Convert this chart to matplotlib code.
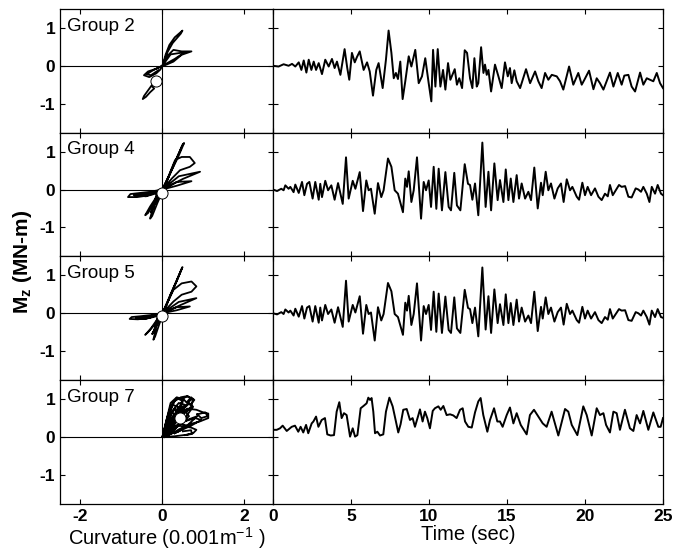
import matplotlib
matplotlib.use('Agg')
import matplotlib.pyplot as plt
import numpy as np

plt.rcParams['font.family'] = ['Liberation Sans', 'DejaVu Sans']
plt.rcParams['mathtext.fontset'] = 'custom'
plt.rcParams['mathtext.rm'] = 'Liberation Sans'
plt.rcParams['mathtext.it'] = 'Liberation Sans:italic'
plt.rcParams['mathtext.bf'] = 'Liberation Sans:bold'

nan = np.nan

groups = ['Group 2', 'Group 4', 'Group 5', 'Group 7']

# moment histories (peaks and troughs), time in sec, moment in MN-m
t_g2 = [0.0, 0.36, 0.68, 1.0, 1.22, 1.43, 1.65, 1.82, 1.97, 2.14, 2.29, 2.46, 2.61, 2.76, 2.93, 3.14,
        3.35, 3.57, 3.78, 3.95, 4.10, 4.32, 4.59, 4.76, 4.89, 5.06, 5.24, 5.38, 5.56, 5.81, 6.03, 6.2,
        6.41, 6.62, 6.77, 7.03, 7.24, 7.41, 7.59, 7.74, 7.88, 8.01, 8.16, 8.31, 8.48, 8.70, 8.87, 9.12,
        9.34, 9.55, 9.76, 9.98, 10.15, 10.26, 10.41, 10.56, 10.73, 10.90, 11.05, 11.22, 11.37, 11.65,
        11.79, 11.94, 12.12, 12.29, 12.44, 12.63, 12.78, 12.91, 13.06, 13.16, 13.34, 13.49, 13.59, 13.7,
        13.81, 13.98, 14.23, 14.45, 14.66, 14.87, 15.05, 15.19, 15.3, 15.47, 15.62, 15.84, 16.22, 16.48,
        16.8, 17.01, 17.22, 17.44, 17.65, 17.87, 18.19, 18.4, 18.61, 18.98, 19.25, 19.57, 19.79, 19.96,
        20.26, 20.54, 20.75, 20.96, 21.18, 21.6, 21.82, 22.1, 22.35, 22.52, 22.78, 22.99, 23.21, 23.53,
        23.74, 23.96, 24.17, 24.38, 24.6, 24.81, 25.0]
m_g2 = [0.0, -0.02, 0.04, 0.0, 0.05, -0.02, 0.09, -0.11, 0.14, -0.18, 0.16, -0.11, 0.11, -0.11, 0.07, -0.22,
        0.16, -0.02, 0.18, -0.06, 0.11, -0.24, 0.44, -0.06, -0.37, 0.34, 0.09, 0.23, 0.38, -0.11, 0.09, -0.15,
        -0.79, -0.11, 0.07, -0.59, 0.16, 0.93, 0.34, -0.33, -0.19, -0.35, 0.11, -0.88, -0.41, 0.25, -0.02, 0.42,
        -0.46, -0.28, 0.2, -0.46, -0.94, 0.42, -0.55, 0.44, -0.55, -0.11, -0.63, 0.07, -0.37, -0.09,
        -0.5, -0.33, -0.59, 0.41, 0.34, -0.33, -0.59, 0.2, -0.55, -0.46, 0.49, -0.19, 0.03, -0.24,
        -0.11, -0.68, 0.03, -0.28, -0.59, 0.09, -0.28, -0.06, -0.46, -0.12, -0.41, -0.59, -0.09, -0.46,
        -0.15, -0.41, -0.59, -0.19, -0.37, -0.24, -0.28, -0.41, -0.63, -0.02, -0.5, -0.19, -0.5, -0.37,
        -0.13, -0.62, -0.33, -0.46, -0.63, -0.18, -0.55, -0.19, -0.5, -0.26, -0.24, -0.55, -0.68, -0.18,
        -0.5, -0.33, -0.37, -0.41, -0.19, -0.46, -0.59]

t_g4 = [0.0, 0.26, 0.53, 0.68, 0.79, 1.0, 1.11, 1.32, 1.43, 1.65, 1.86, 2.01, 2.18, 2.33, 2.54, 2.71,
        2.93, 3.03, 3.14, 3.35, 3.53, 3.74, 3.95, 4.17, 4.47, 4.68, 4.85, 5.11, 5.28, 5.56, 5.77, 5.98,
        6.13, 6.28, 6.52, 6.73, 6.94, 7.09, 7.37, 7.59, 7.8, 8.01, 8.33, 8.48, 8.59, 8.7, 8.87, 9.02,
        9.23, 9.49, 9.66, 9.81, 9.98, 10.13, 10.3, 10.47, 10.62, 10.83, 11.05, 11.26, 11.41, 11.62,
        11.79, 12.01, 12.29, 12.5, 12.63, 12.78, 12.95, 13.16, 13.42, 13.63, 13.81, 13.98, 14.19, 14.4,
        14.55, 14.77, 14.92, 15.09, 15.24, 15.41, 15.62, 15.77, 15.94, 16.16, 16.37, 16.54, 16.75, 16.97,
        17.18, 17.29, 17.48, 17.65, 17.82, 18.04, 18.25, 18.46, 18.63, 18.83, 19.04, 19.19, 19.47, 19.62,
        19.83, 20.0, 20.17, 20.39, 20.64, 20.86, 21.07, 21.28, 21.46, 21.6, 21.78, 21.97, 22.18, 22.35,
        22.57, 22.78, 22.99, 23.25, 23.42, 23.59, 23.74, 23.96, 24.13, 24.28, 24.49, 24.66, 24.87, 25.0]
m_g4 = [0.0, -0.04, 0.02, -0.02, 0.11, 0.02, 0.07, -0.07, 0.13, -0.09, 0.2, -0.15, 0.15, 0.2, -0.24, 0.2,
        -0.27, 0.15, -0.2, 0.23, -0.02, 0.11, -0.27, 0.17, -0.38, 0.85, -0.24, 0.23, 0.02, 0.46, -0.57, 0.24,
        -0.02, 0.02, -0.64, 0.17, -0.2, -0.02, 0.82, 0.6, -0.02, -0.11, -0.6, 0.29, 0.07, 0.48, -0.33, -0.02,
        0.85, -0.77, 0.2, -0.02, 0.24, -0.46, 0.6, -0.51, 0.55, -0.55, 0.46, -0.46, -0.55, 0.44,
        -0.42, -0.55, 0.67, 0.15, 0.12, -0.27, 0.16, -0.68, 1.24, -0.46, 0.47, -0.55, 0.69, -0.28,
        0.25, -0.33, 0.53, -0.28, 0.29, -0.33, 0.38, -0.24, 0.16, -0.24, -0.06, -0.28, 0.58, -0.5,
        0.18, -0.15, 0.47, -0.02, 0.16, -0.24, 0.03, 0.16, -0.33, 0.27, -0.02, 0.07, -0.19, -0.27,
        0.18, -0.15, 0.07, -0.15, 0.03, -0.19, -0.28, -0.11, -0.18, 0.12, -0.15, -0.02, 0.12, 0.07,
        0.09, -0.19, -0.21, 0.03, 0.0, -0.06, 0.07, -0.11, -0.33, 0.07, -0.11, 0.12, -0.11, -0.15]

t_g5 = t_g4
m_g5 = [0.0, -0.03, 0.03, -0.02, 0.1, 0.02, 0.07, -0.06, 0.12, -0.09, 0.19, -0.14, 0.15, 0.19, -0.22, 0.19,
        -0.25, 0.15, -0.19, 0.22, -0.02, 0.1, -0.25, 0.16, -0.36, 0.86, -0.22, 0.22, 0.02, 0.45, -0.54, 0.22,
        -0.02, 0.02, -0.72, 0.16, -0.19, -0.02, 0.8, 0.58, -0.02, -0.1, -0.57, 0.28, 0.07, 0.46, -0.31, -0.02,
        0.79, -0.72, 0.19, -0.02, 0.22, -0.44, 0.57, -0.49, 0.52, -0.52, 0.44, -0.44, -0.52, 0.42,
        -0.4, -0.52, 0.62, 0.14, 0.11, -0.26, 0.15, -0.61, 1.21, -0.43, 0.45, -0.52, 0.63, -0.26,
        0.24, -0.31, 0.5, -0.26, 0.27, -0.31, 0.36, -0.22, 0.15, -0.22, -0.06, -0.26, 0.57, -0.47,
        0.17, -0.14, 0.42, -0.02, 0.15, -0.22, 0.03, 0.15, -0.3, 0.25, -0.02, 0.07, -0.18, -0.25,
        0.17, -0.14, 0.07, -0.14, 0.03, -0.18, -0.26, -0.1, -0.17, 0.11, -0.14, -0.02, 0.11, 0.07,
        0.08, -0.18, -0.2, 0.03, 0.0, -0.06, 0.07, -0.1, -0.3, 0.07, -0.1, 0.11, -0.1, -0.12]

t_g7 = [0.0, 0.24, 0.45, 0.62, 0.88, 1.2, 1.41, 1.62, 1.77, 1.94, 2.12, 2.26, 2.48, 2.59, 2.76, 2.91,
        3.12, 3.33, 3.48, 3.7, 3.91, 4.08, 4.25, 4.4, 4.55, 4.72, 4.94, 5.11, 5.26, 5.41, 5.62, 5.83,
        6.0, 6.11, 6.22, 6.32, 6.43, 6.54, 6.69, 6.86, 7.07, 7.24, 7.46, 7.67, 7.88, 8.03, 8.18, 8.35,
        8.57, 8.78, 8.95, 9.1, 9.32, 9.42, 9.59, 9.74, 9.89, 10.06, 10.24, 10.38, 10.6, 10.75, 10.92,
        11.13, 11.35, 11.56, 11.77, 11.99, 12.16, 12.31, 12.52, 12.74, 12.95, 13.16, 13.31, 13.48, 13.74,
        13.91, 14.17, 14.38, 14.55, 14.72, 14.98, 15.19, 15.41, 15.62, 15.88, 16.26, 16.47, 16.73, 17.01,
        17.29, 17.54, 17.86, 18.29, 18.72, 18.93, 19.15, 19.51, 19.89, 20.11, 20.43, 20.75, 20.96, 21.18,
        21.35, 21.6, 21.82, 22.03, 22.24, 22.56, 22.88, 23.1, 23.31, 23.53, 23.74, 24.06, 24.38, 24.7,
        24.85, 25.0]
m_g7 = [0.19, 0.19, 0.23, 0.3, 0.16, 0.27, 0.3, 0.14, 0.27, 0.12, 0.32, 0.1, 0.36, 0.41, 0.54, 0.27,
        0.45, 0.5, 0.07, 0.04, 0.05, 0.67, 0.92, 0.5, 0.63, 0.58, 0.01, 0.23, 0.01, 0.05, 0.76, 0.83,
        0.89, 1.04, 0.98, 1.03, 0.67, 0.1, 0.14, 0.04, 0.07, 0.67, 1.04, 0.81, 0.41, 0.12, 0.34, 0.72,
        0.74, 0.45, 0.5, 0.27, 0.58, 0.73, 0.41, 0.67, 0.5, 0.23, 0.69, 0.76, 0.81, 0.72, 0.82,
        0.58, 0.6, 0.57, 0.5, 0.72, 0.76, 0.41, 0.27, 0.25, 0.65, 0.94, 1.03, 0.58, 0.14,
        0.45, 0.76, 0.41, 0.41, 0.27, 0.58, 0.78, 0.36, 0.63, 0.32, 0.07, 0.58, 0.72, 0.54,
        0.36, 0.27, 0.67, 0.04, 0.74, 0.67, 0.32, 0.05, 0.81, 0.58, 0.04, 0.76, 0.58, 0.63,
        0.32, 0.12, 0.67, 0.63, 0.19, 0.72, 0.23, 0.16, 0.58, 0.36, 0.69, 0.19, 0.65, 0.27,
        0.27, 0.5]

# moment-curvature loops (curvature in 0.001/m), nan splits the strokes
k_g2 = [0, 0.08, 0.17, 0.3, 0.49, 0.45, 0.25, 0.12, 0.02, nan,
        0, 0.11, 0.27, 0.47, 0.71, 0.47, 0.27, 0.1, 0, nan,
        0, 0.2, 0.55, 0.3, 0, nan,
        0, -0.15, -0.35, -0.45, -0.32, -0.15, -0.05, 0, nan,
        0, -0.2, -0.38, -0.28, -0.1, nan,
        -0.1, -0.25, -0.35, -0.45, -0.48, -0.4, -0.3, -0.2, -0.25, -0.1]
mom_g2 = [0, 0.3, 0.55, 0.75, 0.93, 0.85, 0.6, 0.35, 0.05, nan,
          0, 0.25, 0.42, 0.38, 0.38, 0.29, 0.11, 0.03, 0, nan,
          0, 0.3, 0.36, 0.18, 0, nan,
          0, -0.08, -0.15, -0.25, -0.3, -0.2, -0.1, 0, nan,
          0, -0.1, -0.22, -0.25, -0.12, nan,
          -0.3, -0.5, -0.65, -0.8, -0.88, -0.82, -0.7, -0.6, -0.55, -0.4]

k_g4 = [0, 0.2, 0.38, 0.53, 0.48, 0.3, 0.12, 0, nan,
        0.03, 0.22, 0.5, nan,
        0, 0.15, 0.31, 0.47, 0.67, 0.79, 0.67, 0.43, 0.23, 0, nan,
        0, 0.4, 0.92, 0.5, 0, nan,
        0, 0.35, 0.71, 0.35, 0, nan,
        0, -0.3, -0.54, -0.78, -0.84, -0.62, -0.3, 0, nan,
        0, -0.4, -0.7, -0.4, 0, nan,
        -0.05, -0.2, -0.3, -0.25, -0.12, 0, nan,
        -0.1, -0.3, -0.42, -0.35, -0.18, nan,
        -0.15, -0.22, -0.28, -0.1]
mom_g4 = [0, 0.45, 0.85, 1.23, 1.15, 0.7, 0.25, 0, nan,
          0, 0.52, 1.2, nan,
          0, 0.35, 0.78, 0.86, 0.86, 0.7, 0.6, 0.51, 0.29, 0, nan,
          0, 0.35, 0.47, 0.28, 0, nan,
          0, 0.2, 0.22, 0.1, 0, nan,
          0, -0.06, -0.09, -0.12, -0.2, -0.2, -0.15, -0.05, nan,
          0, -0.12, -0.15, -0.18, 0, nan,
          -0.1, -0.35, -0.77, -0.7, -0.35, -0.05, nan,
          -0.12, -0.45, -0.68, -0.62, -0.3, nan,
          -0.15, -0.5, -0.6, -0.2]

k_g5 = [0, 0.18, 0.35, 0.49, 0.45, 0.28, 0.1, 0, nan,
        0.03, 0.2, 0.46, nan,
        0, 0.12, 0.27, 0.47, 0.71, 0.83, 0.71, 0.47, 0.27, 0, nan,
        0, 0.4, 0.83, 0.45, 0, nan,
        0, 0.35, 0.67, 0.35, 0, nan,
        0, -0.3, -0.55, -0.75, -0.8, -0.6, -0.3, 0, nan,
        0, -0.4, -0.65, -0.4, 0, nan,
        -0.05, -0.15, -0.22, -0.18, -0.08, 0, nan,
        -0.1, -0.28, -0.42, -0.35, -0.15, nan,
        -0.12, -0.2, -0.25, -0.08]
mom_g5 = [0, 0.45, 0.85, 1.22, 1.12, 0.68, 0.22, 0, nan,
          0, 0.5, 1.15, nan,
          0, 0.28, 0.62, 0.79, 0.84, 0.71, 0.57, 0.49, 0.31, 0, nan,
          0, 0.3, 0.4, 0.22, 0, nan,
          0, 0.16, 0.18, 0.08, 0, nan,
          0, -0.05, -0.08, -0.1, -0.15, -0.16, -0.12, -0.04, nan,
          0, -0.1, -0.12, -0.15, 0, nan,
          -0.1, -0.35, -0.7, -0.62, -0.3, -0.05, nan,
          -0.12, -0.4, -0.57, -0.5, -0.25, nan,
          -0.12, -0.45, -0.55, -0.18]

k_g7 = [0, 0.15, 0.3, 0.45, 0.6, 0.75, 0.7, 0.5, 0.3, 0.1, nan,
        0, 0.1, 0.2, 0.35, 0.5, 0.4, 0.15, nan,
        0.05, 0.3, 0.6, 0.83, 1.0, 1.12, 1.12, 0.91, 0.7, 0.4, 0.1, nan,
        0.1, 0.4, 0.7, 0.83, 0.75, 0.59, 0.3, 0, nan,
        0.05, 0.25, 0.4, 0.55, 0.45, 0.2, nan,
        0.1, 0.5, 0.8, 0.95, 0.7, 0.3, nan,
        0.62, 0.7, 0.78, 0.68, nan,
        0.05, 0.18, 0.3, 0.35, 0.2, 0.05, nan,
        0.1, 0.3, 0.55, 0.65, 0.45, 0.15, nan,
        0, 0.2, 0.35, 0.5, 0.3, 0.05, nan,
        0.02, 0.12, 0.25, 0.38, 0.25, 0.05, nan,
        0.05, 0.45, 0.65, 0.75, 0.55, 0.2, nan,
        0.1, 0.35, 0.6, 0.85, 0.6, 0.3, nan,
        0.5, 0.62, 0.72, 0.6, 0.5, nan,
        0.85, 1.05, 1.1, 0.95, 0.85, nan,
        0.5, 0.7, 0.72, 0.55, nan,
        0.08, 0.22, 0.32, 0.15, 0.04, nan,
        0.03, 0.15, 0.28, 0.42, 0.3, 0.1, nan,
        0.08, 0.3, 0.5, 0.68, 0.5, 0.2, nan,
        0.15, 0.4, 0.62, 0.4, 0.2, nan,
        0.05, 0.22, 0.45, 0.6, 0.4, 0.1]
mom_g7 = [0, 0.6, 0.95, 1.05, 1.08, 0.99, 0.8, 0.6, 0.35, 0.05, nan,
          0, 0.45, 0.81, 1.03, 0.95, 0.6, 0.2, nan,
          0.05, 0.5, 0.75, 0.72, 0.65, 0.62, 0.5, 0.41, 0.35, 0.2, 0.02, nan,
          0.1, 0.3, 0.25, 0.19, 0.1, 0.06, 0.02, 0, nan,
          0.1, 0.7, 0.9, 0.85, 0.55, 0.25, nan,
          0.02, 0.4, 0.5, 0.45, 0.3, 0.1, nan,
          0.95, 1.05, 0.98, 0.85, nan,
          0.2, 0.55, 0.75, 0.6, 0.3, 0.1, nan,
          0.15, 0.45, 0.7, 0.55, 0.35, 0.1, nan,
          0, 0.9, 1.05, 1.0, 0.5, 0.05, nan,
          0, 0.5, 0.85, 0.8, 0.4, 0, nan,
          0, 0.7, 0.9, 0.8, 0.5, 0.1, nan,
          0.05, 0.3, 0.45, 0.55, 0.3, 0.1, nan,
          1.02, 1.08, 1.0, 0.9, 1.02, nan,
          0.6, 0.65, 0.55, 0.5, 0.6, nan,
          0.15, 0.18, 0.08, 0.05, nan,
          0.2, 0.65, 0.6, 0.25, 0.1, nan,
          0.02, 0.35, 0.6, 0.7, 0.45, 0.08, nan,
          0.05, 0.35, 0.6, 0.75, 0.65, 0.25, nan,
          0.25, 0.65, 0.85, 0.75, 0.4, nan,
          0.1, 0.25, 0.35, 0.3, 0.15, 0.05]

# white circle on each loop plot
circle_k = [-0.15, 0.0, 0.0, 0.44]
circle_m = [-0.41, -0.09, -0.06, 0.5]

histories = [(t_g2, m_g2), (t_g4, m_g4), (t_g5, m_g5), (t_g7, m_g7)]
loops = [(k_g2, mom_g2), (k_g4, mom_g4), (k_g5, mom_g5), (k_g7, mom_g7)]

W, H = 683, 554
row_h = 123.75
fig = plt.figure(figsize=(W / 100, H / 100), dpi=100)

for i in range(4):
    bottom = 1 - (9 + row_h * (i + 1)) / H
    ax_l = fig.add_axes([60 / W, bottom, 213 / W, row_h / H])
    ax_r = fig.add_axes([273 / W, bottom, 390 / W, row_h / H])

    # loops
    ax_l.axhline(0, color='k', lw=0.8)
    ax_l.axvline(0, color='k', lw=0.8)
    ax_l.plot(loops[i][0], loops[i][1], color='k', lw=1.3)
    ax_l.plot(circle_k[i], circle_m[i], 'o', ms=8, mfc='white', mec='k', mew=0.7, zorder=5)
    ax_l.text(0.035, 0.93, groups[i], transform=ax_l.transAxes, fontsize=13.5, va='top')
    ax_l.set_xlim(-2.5, 2.7)
    ax_l.set_ylim(-1.77, 1.5)
    ax_l.set_xticks([-2, 0, 2])
    ax_l.set_yticks([-1, 0, 1])
    ax_l.set_yticklabels(['-1', '0', '1'], fontweight='bold')

    # time history
    ax_r.plot(histories[i][0], histories[i][1], color='k', lw=1.4)
    ax_r.set_xlim(0, 25)
    ax_r.set_ylim(-1.77, 1.5)
    ax_r.set_xticks([0, 5, 10, 15, 20, 25])
    ax_r.set_yticks([-1, 0, 1])
    ax_r.set_yticklabels([])

    for ax in (ax_l, ax_r):
        ax.tick_params(direction='in', top=True, right=True, length=3.5, width=0.8,
                       labelsize=12.5, colors='k')
        for sp in ax.spines.values():
            sp.set_linewidth(0.9)

    if i < 3:
        ax_l.set_xticklabels([])
        ax_r.set_xticklabels([])
    else:
        ax_l.set_xticklabels(['-2', '0', '2'], fontweight='bold')
        ax_r.set_xticklabels(['0', '5', '10', '15', '20', '25'], fontweight='bold')
        ax_l.set_xlabel('Curvature (0.001m$^{-1}$ )', fontsize=14.5, labelpad=1)
        ax_r.set_xlabel('Time (sec)', fontsize=14.5, labelpad=1)

fig.text(0.033, 0.527, r'M$_{\mathbf{z}}$ (MN-m)', rotation=90, ha='center', va='center',
         fontsize=15, fontweight='bold')

fig.savefig('out.png', dpi=100)
